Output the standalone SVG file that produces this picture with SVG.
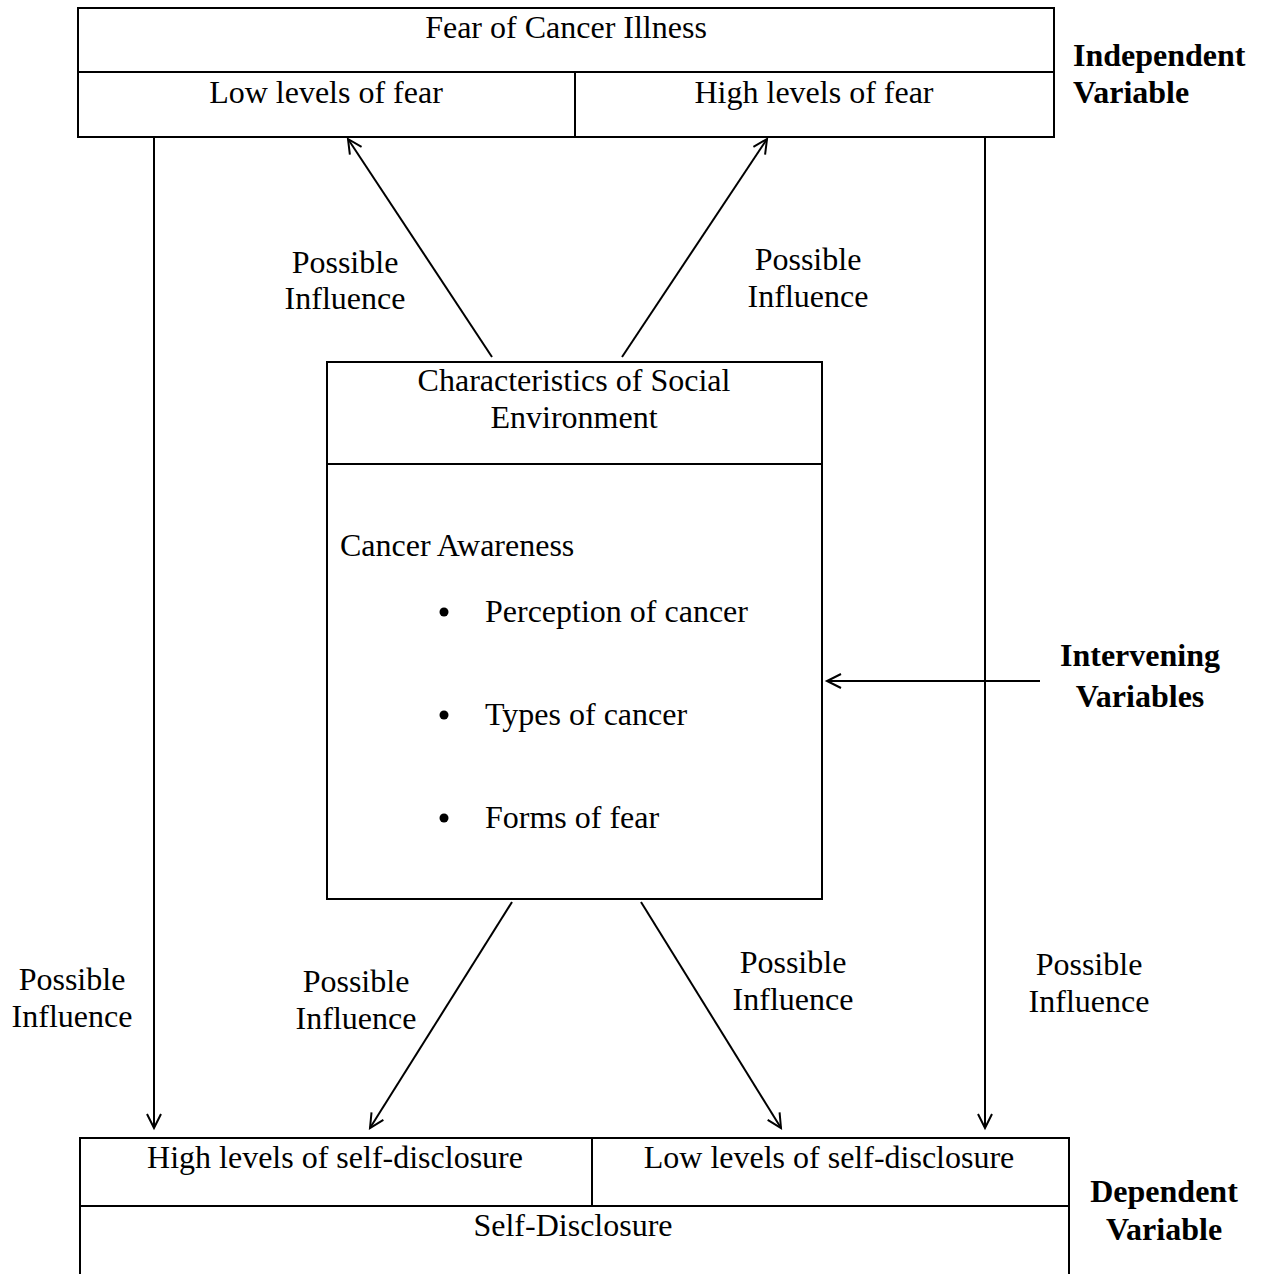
<svg xmlns="http://www.w3.org/2000/svg" width="1263" height="1274" viewBox="0 0 1263 1274">
<style>
text{font-family:"Liberation Serif","Times New Roman",serif;font-size:32px;fill:#000}
.b{font-weight:bold}
.c{text-anchor:middle}
.box{fill:none;stroke:#000;stroke-width:2}
.ln{fill:none;stroke:#000;stroke-width:2}
.con line{stroke:#000;stroke-width:2;marker-end:url(#ah)}
</style>
<defs>
<marker id="ah" markerUnits="userSpaceOnUse" markerWidth="20" markerHeight="20" refX="16" refY="8" orient="auto" viewBox="0 0 20 16">
<path d="M2,1 L16,8 L2,15" fill="none" stroke="#000" stroke-width="2"/>
</marker>
</defs>
<rect width="1263" height="1274" fill="#fff"/>
<g id="independent">
<rect class="box" x="78" y="8" width="976" height="129"/>
<line class="ln" x1="78" y1="72" x2="1054" y2="72"/>
<line class="ln" x1="575" y1="72" x2="575" y2="137"/>
<text class="c" x="566" y="38">Fear of Cancer Illness</text>
<text class="c" x="326" y="103">Low levels of fear</text>
<text class="c" x="814" y="103">High levels of fear</text>
</g>
<g id="independent-label">
<text class="b" x="1073" y="66">Independent</text>
<text class="b" x="1073" y="103">Variable</text>
</g>
<g id="intervening">
<rect class="box" x="327" y="362" width="495" height="537"/>
<line class="ln" x1="327" y1="464" x2="822" y2="464"/>
<text class="c" x="574" y="391">Characteristics of Social</text>
<text class="c" x="574" y="428">Environment</text>
<text x="340" y="556">Cancer Awareness</text>
<circle cx="444" cy="612" r="4.5"/>
<text x="485" y="622">Perception of cancer</text>
<circle cx="444" cy="715" r="4.5"/>
<text x="485" y="725">Types of cancer</text>
<circle cx="444" cy="818" r="4.5"/>
<text x="485" y="828">Forms of fear</text>
</g>
<g id="intervening-label">
<text class="b c" x="1140" y="666">Intervening</text>
<text class="b c" x="1140" y="707">Variables</text>
</g>
<g id="dependent">
<path class="box" d="M80,1274 V1138 H1069 V1274"/>
<line class="ln" x1="80" y1="1206" x2="1069" y2="1206"/>
<line class="ln" x1="592" y1="1138" x2="592" y2="1206"/>
<text class="c" x="335" y="1168">High levels of self-disclosure</text>
<text class="c" x="829" y="1168">Low levels of self-disclosure</text>
<text class="c" x="573" y="1236">Self-Disclosure</text>
</g>
<g id="dependent-label">
<text class="b c" x="1164" y="1202">Dependent</text>
<text class="b c" x="1164" y="1240">Variable</text>
</g>
<g id="connectors" class="con">
<line x1="492" y1="357" x2="348" y2="139"/>
<line x1="622" y1="357" x2="767" y2="139"/>
<line x1="154" y1="137" x2="154" y2="1128"/>
<line x1="985" y1="137" x2="985" y2="1128"/>
<line x1="512" y1="902" x2="370" y2="1128"/>
<line x1="641" y1="902" x2="781" y2="1128"/>
<line x1="1040" y1="681" x2="827" y2="681"/>
</g>
<g id="labels">
<text class="c" x="345" y="273">Possible</text>
<text class="c" x="345" y="309">Influence</text>
<text class="c" x="808" y="270">Possible</text>
<text class="c" x="808" y="307">Influence</text>
<text class="c" x="72" y="990">Possible</text>
<text class="c" x="72" y="1027">Influence</text>
<text class="c" x="356" y="992">Possible</text>
<text class="c" x="356" y="1029">Influence</text>
<text class="c" x="793" y="973">Possible</text>
<text class="c" x="793" y="1010">Influence</text>
<text class="c" x="1089" y="975">Possible</text>
<text class="c" x="1089" y="1012">Influence</text>
</g>
</svg>
